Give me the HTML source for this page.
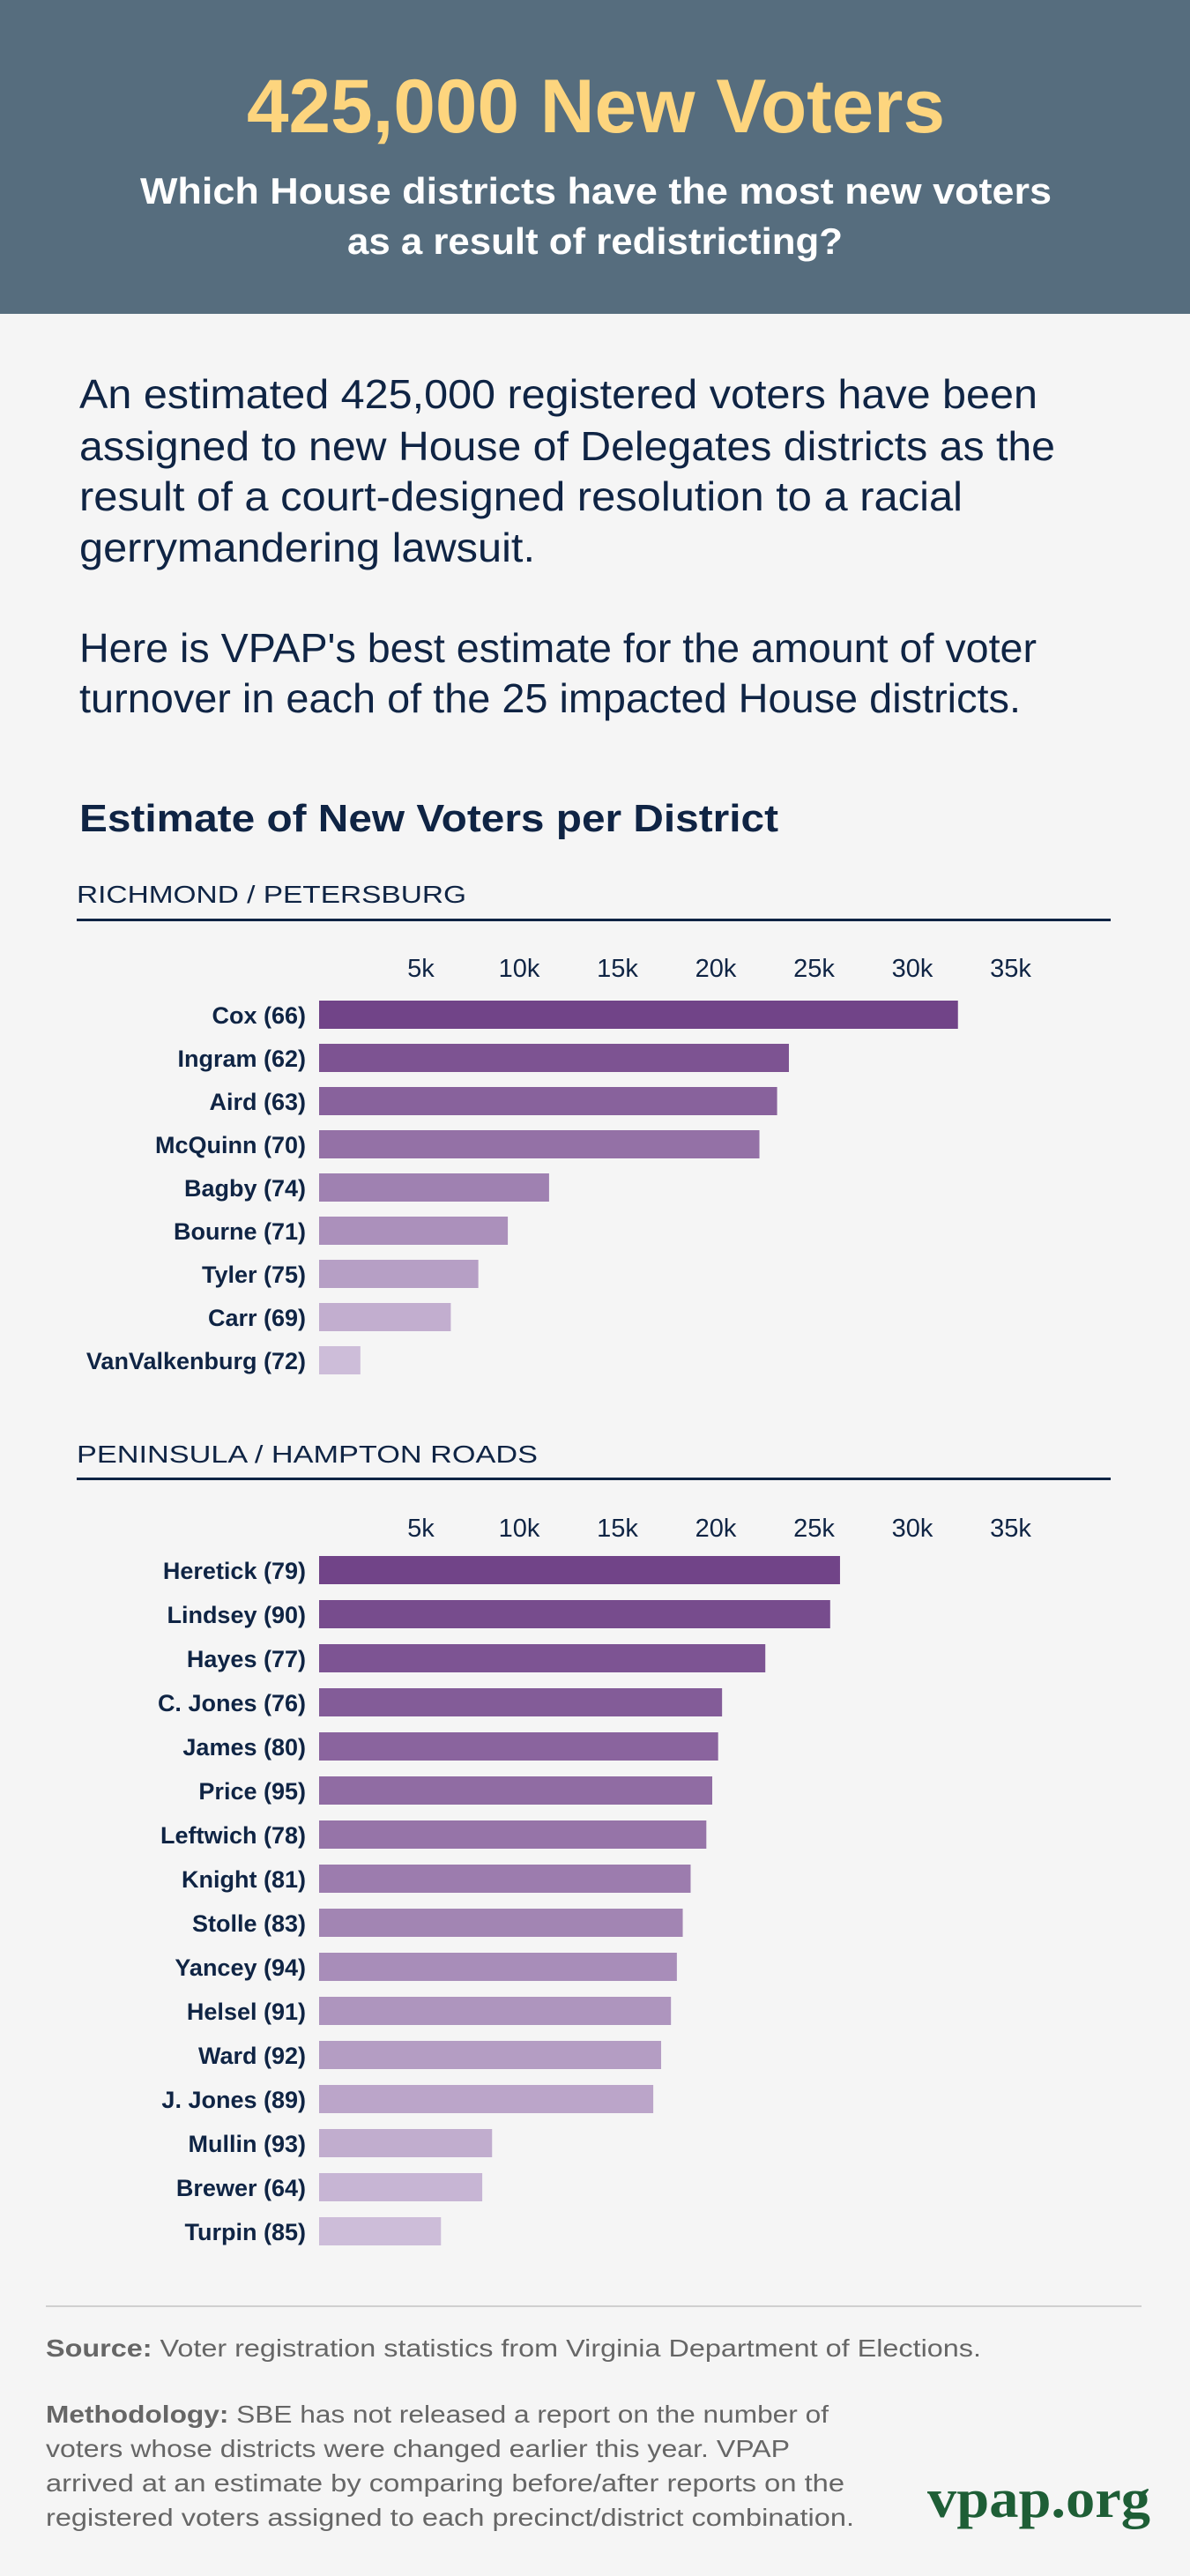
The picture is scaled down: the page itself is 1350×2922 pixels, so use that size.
<!DOCTYPE html>
<html><head><meta charset="utf-8"><style>
html,body{margin:0;padding:0;background:#f5f5f5;}
svg{display:block;}
text{font-family:"Liberation Sans",sans-serif;}
</style></head><body>
<svg id="page" width="1350" height="2922" viewBox="0 0 1350 2922" xmlns="http://www.w3.org/2000/svg">
<rect x="0" y="0" width="1350" height="2922" fill="#f5f5f5"/>
<rect x="0" y="0" width="1350" height="356" fill="#566d7e"/>
<text x="676" y="150" text-anchor="middle" font-size="86" font-weight="bold" fill="#fdd57e" textLength="792" lengthAdjust="spacingAndGlyphs">425,000 New Voters</text>
<text x="676" y="231" text-anchor="middle" font-size="42" font-weight="bold" fill="#ffffff" textLength="1034" lengthAdjust="spacingAndGlyphs">Which House districts have the most new voters</text>
<text x="675" y="288" text-anchor="middle" font-size="42" font-weight="bold" fill="#ffffff" textLength="562" lengthAdjust="spacingAndGlyphs">as a result of redistricting?</text>

<g fill="#0f2444" font-size="46">
<text x="90" y="463" textLength="1087" lengthAdjust="spacingAndGlyphs">An estimated 425,000 registered voters have been</text>
<text x="90" y="522" textLength="1107" lengthAdjust="spacingAndGlyphs">assigned to new House of Delegates districts as the</text>
<text x="90" y="579" textLength="1002" lengthAdjust="spacingAndGlyphs">result of a court-designed resolution to a racial</text>
<text x="90" y="637" textLength="517" lengthAdjust="spacingAndGlyphs">gerrymandering lawsuit.</text>
</g>
<g fill="#0f2444" font-size="46">
<text x="90" y="751" textLength="1086" lengthAdjust="spacingAndGlyphs">Here is VPAP's best estimate for the amount of voter</text>
<text x="90" y="808" textLength="1068" lengthAdjust="spacingAndGlyphs">turnover in each of the 25 impacted House districts.</text>
</g>
<text x="90" y="943" font-size="44" font-weight="bold" fill="#0f2444" textLength="793" lengthAdjust="spacingAndGlyphs">Estimate of New Voters per District</text>

<text x="87" y="1024" font-size="28" fill="#0f2444" textLength="442" lengthAdjust="spacingAndGlyphs">RICHMOND / PETERSBURG</text>
<rect x="87" y="1042" width="1173" height="3" fill="#0f2444"/>
<g id="chart1"></g>

<text x="87" y="1659" font-size="28" fill="#0f2444" textLength="523" lengthAdjust="spacingAndGlyphs">PENINSULA / HAMPTON ROADS</text>
<rect x="87" y="1676" width="1173" height="3" fill="#0f2444"/>
<g id="chart2"></g>

<rect x="52" y="2615" width="1243" height="2" fill="#d0d0d0"/>
<text x="52" y="2673" font-size="28" fill="#666666" textLength="1061" lengthAdjust="spacingAndGlyphs"><tspan font-weight="bold">Source:</tspan> Voter registration statistics from Virginia Department of Elections.</text>
<g fill="#666666" font-size="28">
<text x="52" y="2748" textLength="888" lengthAdjust="spacingAndGlyphs"><tspan font-weight="bold">Methodology:</tspan> SBE has not released a report on the number of</text>
<text x="52" y="2787" textLength="844" lengthAdjust="spacingAndGlyphs">voters whose districts were changed earlier this year. VPAP</text>
<text x="52" y="2826" textLength="906" lengthAdjust="spacingAndGlyphs">arrived at an estimate by comparing before/after reports on the</text>
<text x="52" y="2865" textLength="917" lengthAdjust="spacingAndGlyphs">registered voters assigned to each precinct/district combination.</text>
</g>
<text x="1052" y="2855" style="font-family:'Liberation Serif',serif;" font-size="62" font-weight="bold" fill="#1e5e36" textLength="253" lengthAdjust="spacingAndGlyphs">vpap.org</text>
</svg>
<script>
const tickValues = [5000, 10000, 15000, 20000, 25000, 30000, 35000];
const tickLabels = ["5k", "10k", "15k", "20k", "25k", "30k", "35k"];
const richmondNames = ["Cox (66)", "Ingram (62)", "Aird (63)", "McQuinn (70)", "Bagby (74)", "Bourne (71)", "Tyler (75)", "Carr (69)", "VanValkenburg (72)"];
const richmondValues = [32500, 23900, 23300, 22400, 11700, 9600, 8100, 6700, 2100];
const peninsulaNames = ["Heretick (79)", "Lindsey (90)", "Hayes (77)", "C. Jones (76)", "James (80)", "Price (95)", "Leftwich (78)", "Knight (81)", "Stolle (83)", "Yancey (94)", "Helsel (91)", "Ward (92)", "J. Jones (89)", "Mullin (93)", "Brewer (64)", "Turpin (85)"];
const peninsulaValues = [26500, 26000, 22700, 20500, 20300, 20000, 19700, 18900, 18500, 18200, 17900, 17400, 17000, 8800, 8300, 6200];

const NS = "http://www.w3.org/2000/svg";
const X0 = 362, PX_PER = 22.3 / 1000;
function xScale(v){ return X0 + v * PX_PER; }
function mix(a,b,t){ return Math.round(a + (b-a)*t); }
function colorAt(i,n){
  const t = n>1 ? i/(n-1) : 0;
  return "rgb(" + mix(0x71,0xcd,t) + "," + mix(0x44,0xbd,t) + "," + mix(0x88,0xd9,t) + ")";
}
function drawChart(g, names, values, tickY, barTop, pitch, prefix){
  tickValues.forEach(function(v,i){
    const t = document.createElementNS(NS,"text");
    t.setAttribute("x", xScale(v) + 4);
    t.setAttribute("y", tickY);
    t.setAttribute("text-anchor","middle");
    t.setAttribute("font-size","29");
    t.setAttribute("fill","#0f2444");
    t.textContent = tickLabels[i];
    
    
    g.appendChild(t);
  });
  values.forEach(function(v,i){
    const y = barTop + i*pitch;
    const r = document.createElementNS(NS,"rect");
    r.setAttribute("x", X0);
    r.setAttribute("y", y);
    r.setAttribute("width", xScale(v) - X0);
    r.setAttribute("height", 32);
    r.setAttribute("fill", colorAt(i, values.length));
    
    
    g.appendChild(r);
    const t = document.createElementNS(NS,"text");
    t.setAttribute("x", 347);
    t.setAttribute("y", y + 26);
    t.setAttribute("text-anchor","end");
    t.setAttribute("font-size","27");
    t.setAttribute("font-weight","bold");
    t.setAttribute("fill","#0f2444");
    t.textContent = names[i];
    
    
    g.appendChild(t);
  });
}
drawChart(document.getElementById("chart1"), richmondNames, richmondValues, 1108, 1135, 49, "richmond");
drawChart(document.getElementById("chart2"), peninsulaNames, peninsulaValues, 1743, 1765, 50, "peninsula");
</script>
</body></html>
